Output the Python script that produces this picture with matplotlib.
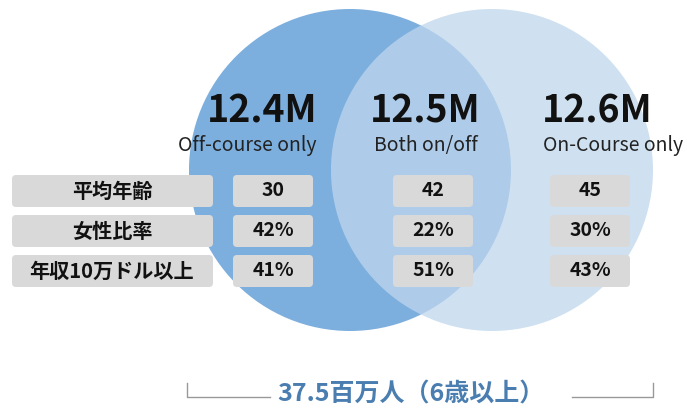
import matplotlib.pyplot as plt
from matplotlib.patches import Circle, FancyBboxPatch

plt.rcParams['font.family'] = ['Noto Sans CJK JP', 'DejaVu Sans']

# Venn segments
segments = ['Off-course only', 'Both on/off', 'On-Course only']
sizes = ['12.4M', '12.5M', '12.6M']

# Attribute rows
row_labels = ['平均年齢', '女性比率', '年収10万ドル以上']
values = [
    ['30', '42', '45'],
    ['42%', '22%', '30%'],
    ['41%', '51%', '43%'],
]
total_label = '37.5百万人（6歳以上）'

fig = plt.figure(figsize=(6.88, 4.09), dpi=100)
ax = fig.add_axes([0, 0, 1, 1])
ax.set_xlim(0, 688)
ax.set_ylim(409, 0)
ax.set_aspect('equal')
ax.axis('off')

# circles (pixel coordinates)
ax.add_patch(Circle((350, 170), 161, facecolor='#7DAFDE', edgecolor='none', zorder=1))
ax.add_patch(Circle((492, 170), 161, facecolor=(191/255, 215/255, 237/255), alpha=0.75,
                    edgecolor='none', zorder=2))

col_x = [273, 433, 590]
num_x = [262, 425, 597]
lab_x = [247, 426, 613]
for i in range(3):
    ax.text(num_x[i], 111, sizes[i], ha='center', va='center', fontsize=27,
            fontweight='bold', color='#111111', zorder=5)
    ax.text(lab_x[i], 145, segments[i], ha='center', va='center', fontsize=14,
            color='#222222', zorder=5)

row_y = [191, 231, 271]
box_h = 32
for r, y in enumerate(row_y):
    ax.add_patch(FancyBboxPatch((12 + 4, y - box_h / 2 + 4), 201 - 8, box_h - 8,
                                boxstyle='round,pad=4', facecolor='#D9D9D9',
                                edgecolor='none', zorder=3))
    ax.text(112, y, row_labels[r], ha='center', va='center', fontsize=14.5,
            fontweight='bold', color='#111111', zorder=5)
    for c in range(3):
        ax.add_patch(FancyBboxPatch((col_x[c] - 40 + 4, y - box_h / 2 + 4), 80 - 8, box_h - 8,
                                    boxstyle='round,pad=4', facecolor='#D9D9D9',
                                    edgecolor='none', zorder=3))
        ax.text(col_x[c], y, values[r][c], ha='center', va='center', fontsize=14,
                fontweight='bold', color='#111111', zorder=5)

# bracket with total
ax.plot([187, 187, 270], [383, 397, 397], color='#999999', lw=1, zorder=4)
ax.plot([572, 653, 653], [397, 397, 383], color='#999999', lw=1, zorder=4)
ax.text(411, 395, total_label, ha='center', va='center', fontsize=18,
        fontweight='bold', color='#4A7DB0', zorder=5)

fig.savefig('out.png', dpi=100)
